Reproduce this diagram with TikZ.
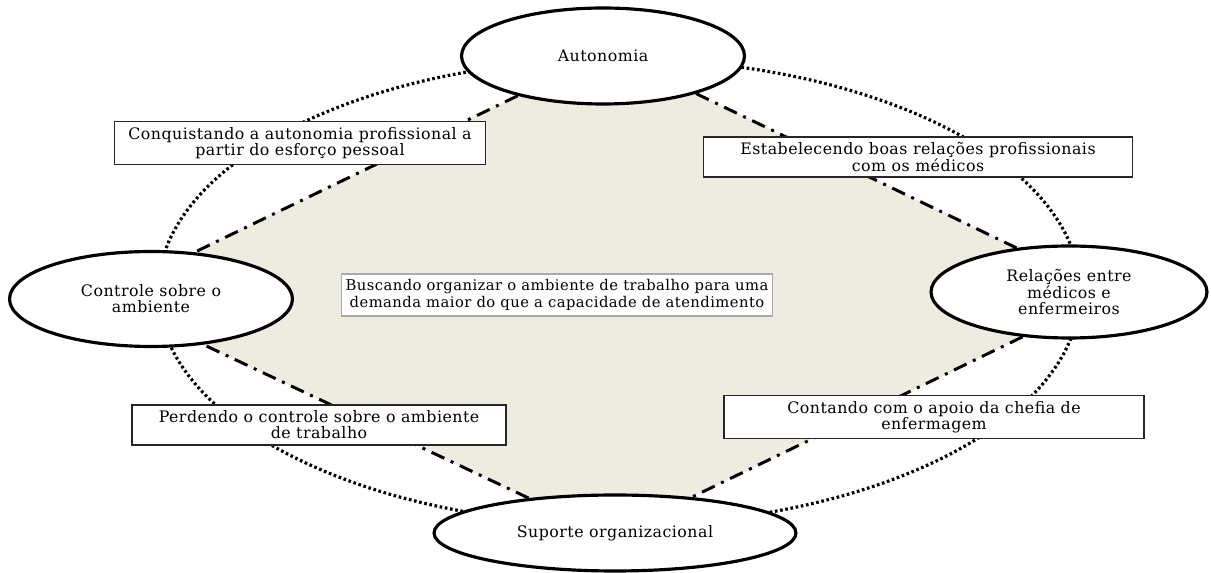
\documentclass[tikz,border=0pt]{standalone}
\usepackage{fontspec}
\setmainfont[LetterSpace=3]{DejaVu Serif}
\usetikzlibrary{backgrounds,shapes.geometric}
\definecolor{beige}{RGB}{238,235,225}
\definecolor{boxgray}{RGB}{170,170,170}
\begin{document}
\begin{tikzpicture}[x=0.02cm, y=-0.02cm,
		font=\fontsize{9}{9.2}\selectfont,
		oval/.style={ellipse, draw, line width=1.8pt, fill=white, align=center, inner sep=0pt},
		note/.style={rectangle, draw=black!85, line width=0.9pt, fill=white, align=center, minimum height=0.8cm, inner xsep=1pt},
		ring/.style={line width=1.8pt, dash pattern=on 1.5pt off 1.5pt},
		side/.style={line width=1.7pt, dash pattern=on 8pt off 4pt on 1.7pt off 4pt}]
	\useasboundingbox (0,0) rectangle (1211,573);
	% the four dimensions
	\node[oval, minimum width=5.66cm, minimum height=1.92cm] (auto) at (603,56) {Autonomia};
	\node[oval, minimum width=5.66cm, minimum height=1.9cm] (ctrl) at (151,299) {Controle sobre o\\ambiente};
	\node[oval, minimum width=5.52cm, minimum height=1.84cm] (rel) at (1069,292) {Relações entre\\médicos e\\enfermeiros};
	\node[oval, minimum width=7.24cm, minimum height=1.52cm] (sup) at (615,533) {Suporte organizacional};
	% the categories
	\node[note, minimum width=7.42cm] (conq) at (300,143) {Conquistando a autonomia profissional a\\partir do esforço pessoal};
	\node[note, minimum width=8.58cm] (estab) at (918,157) {Estabelecendo boas relações profissionais\\com os médicos};
	\node[note, draw=boxgray, minimum width=8.62cm, font=\fontsize{8.4}{9.2}\selectfont] (busc) at (557,295) {Buscando organizar o ambiente de trabalho para uma\\demanda maior do que a capacidade de atendimento};
	\node[note, minimum width=7.48cm] (perd) at (319,425) {Perdendo o controle sobre o ambiente\\de trabalho};
	\node[note, minimum width=8.4cm] (cont) at (934,417) {Contando com o apoio da chefia de\\enfermagem};
	\begin{scope}[on background layer]
		\fill[beige] (ctrl.47) -- (auto.205) -- (auto.center) -- (auto.338) -- (rel.140) -- (rel.center) -- (rel.224)
			-- (sup.25) -- (sup.center) -- (sup.158) -- (ctrl.319) -- (ctrl.center) -- cycle;
		\draw[ring] (619,292) ellipse [x radius=461, y radius=233];
		\draw[side] (auto.205) -- (ctrl.47);
		\draw[side] (auto.338) -- (rel.140);
		\draw[side] (rel.224) -- (sup.25);
		\draw[side] (sup.158) -- (ctrl.319);
	\end{scope}
\end{tikzpicture}
\end{document}
